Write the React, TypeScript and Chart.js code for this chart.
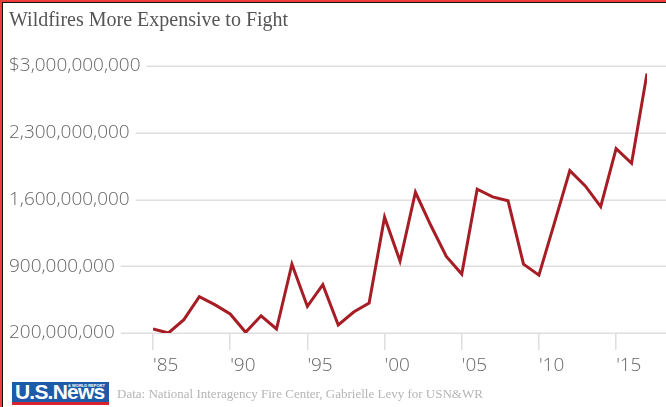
import React, { useEffect, useRef } from "react";
import { Chart, registerables } from "chart.js";

Chart.register(...registerables);

const years = [
  1985, 1986, 1987, 1988, 1989, 1990, 1991, 1992, 1993, 1994, 1995,
  1996, 1997, 1998, 1999, 2000, 2001, 2002, 2003, 2004, 2005, 2006,
  2007, 2008, 2009, 2010, 2011, 2012, 2013, 2014, 2015, 2016, 2017,
];
const costs = [
  242e6, 200e6, 340e6, 580e6, 497e6, 399e6, 207e6, 381e6, 242e6, 922e6, 479e6,
  706e6, 284e6, 420e6, 514e6, 1415e6, 954e6, 1676e6, 1327e6, 1003e6, 818e6, 1708e6,
  1627e6, 1586e6, 922e6, 807e6, 1352e6, 1903e6, 1743e6, 1526e6, 2133e6, 1980e6, 2922e6,
];
const xTickValues = [1985, 1990, 1995, 2000, 2005, 2010, 2015];
const xTickLabels = ["'85", "'90", "'95", "'00", "'05", "'10", "'15"];
const yTickValues = [200e6, 900e6, 1600e6, 2300e6, 3000e6];
const yTickLabels = ["200,000,000", "900,000,000", "1,600,000,000", "2,300,000,000", "$3,000,000,000"];

const TICK_FONT = { family: "'Open Sans', sans-serif", size: 19, weight: 300 as any };
const TICK_COLOR = "#666666";

const gridPlugin = {
  id: "labelGrid",
  beforeDatasetsDraw(chart: any) {
    const ctx = chart.ctx;
    const y = chart.scales.y;
    ctx.save();
    ctx.font = `300 ${TICK_FONT.size}px ${TICK_FONT.family}`;
    ctx.strokeStyle = "#dedede";
    ctx.lineWidth = 1.5;
    yTickValues.forEach((v, i) => {
      const py = Math.round(y.getPixelForValue(v)) + 0.25;
      const w = ctx.measureText(yTickLabels[i]).width;
      ctx.beginPath();
      ctx.moveTo(y.left + w + 6, py);
      ctx.lineTo(chart.width, py);
      ctx.stroke();
    });
    ctx.restore();
  },
};

export default function App() {
  const ref = useRef<HTMLCanvasElement | null>(null);

  useEffect(() => {
    if (!ref.current) return;
    const chart = new Chart(ref.current, {
      type: "line",
      data: {
        datasets: [
          {
            data: years.map((yr, i) => ({ x: yr, y: costs[i] })),
            borderColor: "#a71d25",
            borderWidth: 3,
            pointRadius: 0,
            tension: 0,
            fill: false,
          },
        ],
      },
      plugins: [gridPlugin],
      options: {
        animation: false,
        responsive: false,
        maintainAspectRatio: false,
        layout: { padding: { top: 66, left: 9, right: 19, bottom: 27 } },
        plugins: { legend: { display: false }, tooltip: { enabled: false }, title: { display: false } },
        scales: {
          x: {
            type: "linear",
            min: 1985,
            max: 2017,
            afterBuildTicks: (s: any) => {
              s.ticks = xTickValues.map((v) => ({ value: v }));
            },
            afterFit: (s: any) => {
              s.height = 47;
            },
            border: { display: false },
            grid: { drawOnChartArea: false, drawTicks: true, tickLength: 17, color: "#dedede", lineWidth: 1.5 },
            ticks: {
              align: "start",
              maxRotation: 0,
              autoSkip: false,
              padding: 4,
              color: TICK_COLOR,
              font: TICK_FONT,
              callback: (v: any) => {
                const i = xTickValues.indexOf(Number(v));
                return i >= 0 ? xTickLabels[i] : "";
              },
            },
          },
          y: {
            type: "linear",
            min: 200e6,
            max: 3000e6,
            afterBuildTicks: (s: any) => {
              s.ticks = yTickValues.map((v) => ({ value: v }));
            },
            afterFit: (s: any) => {
              s.width = 144;
            },
            border: { display: false },
            grid: { display: false },
            ticks: {
              crossAlign: "far",
              autoSkip: false,
              color: TICK_COLOR,
              font: TICK_FONT,
              callback: (v: any) => {
                const i = yTickValues.indexOf(Number(v));
                return i >= 0 ? yTickLabels[i] : "";
              },
            },
          },
        },
      },
    });
    return () => chart.destroy();
  }, []);

  return (
    <div style={{ position: "fixed", left: 0, top: 0, width: 666, height: 407, background: "#fff", overflow: "hidden" }}>
      <canvas ref={ref} width={666} height={407} style={{ position: "absolute", left: 0, top: 0, width: 666, height: 407 }} />
      <div style={{ position: "absolute", left: 0, top: 0, width: 666, height: 2, background: "#ee3b3b" }} />
      <div style={{ position: "absolute", left: 0, top: 2, width: 666, height: 1, background: "#111" }} />
      <div style={{ position: "absolute", left: 0, top: 0, width: 2, height: 407, background: "#ee3b3b" }} />
      <div style={{ position: "absolute", left: 2, top: 2, width: 1, height: 405, background: "#111" }} />
      <div
        style={{
          position: "absolute",
          left: 9,
          top: 7,
          fontFamily: "'Liberation Serif', 'Times New Roman', serif",
          fontSize: 20,
          lineHeight: "24px",
          color: "#555",
          whiteSpace: "nowrap",
        }}
      >
        Wildfires More Expensive to Fight
      </div>
      <div style={{ position: "absolute", left: 12, top: 382, width: 97, height: 20, background: "#1d5aa8", overflow: "hidden" }}>
        <div
          style={{
            position: "absolute",
            left: 3,
            top: -1,
            fontFamily: "'Liberation Sans Narrow', 'Liberation Sans', Arial, sans-serif",
            fontWeight: 700,
            fontSize: 21,
            lineHeight: "22px",
            letterSpacing: -0.8,
            color: "#fff",
            whiteSpace: "nowrap",
          }}
        >
          U.S.News
        </div>
        <div
          style={{
            position: "absolute",
            left: 56,
            top: 1,
            fontFamily: "'Liberation Sans', Arial, sans-serif",
            fontWeight: 700,
            fontSize: 4,
            lineHeight: "5px",
            color: "#fff",
            whiteSpace: "nowrap",
          }}
        >
          &amp; WORLD REPORT
        </div>
      </div>
      <div style={{ position: "absolute", left: 12, top: 402, width: 97, height: 3, background: "#d6232f" }} />
      <div
        style={{
          position: "absolute",
          left: 117,
          top: 386,
          fontFamily: "'Liberation Serif', 'Times New Roman', serif",
          fontSize: 13,
          lineHeight: "15px",
          color: "#b5b5b5",
          whiteSpace: "nowrap",
        }}
      >
        Data: National Interagency Fire Center, Gabrielle Levy for USN&amp;WR
      </div>
    </div>
  );
}
